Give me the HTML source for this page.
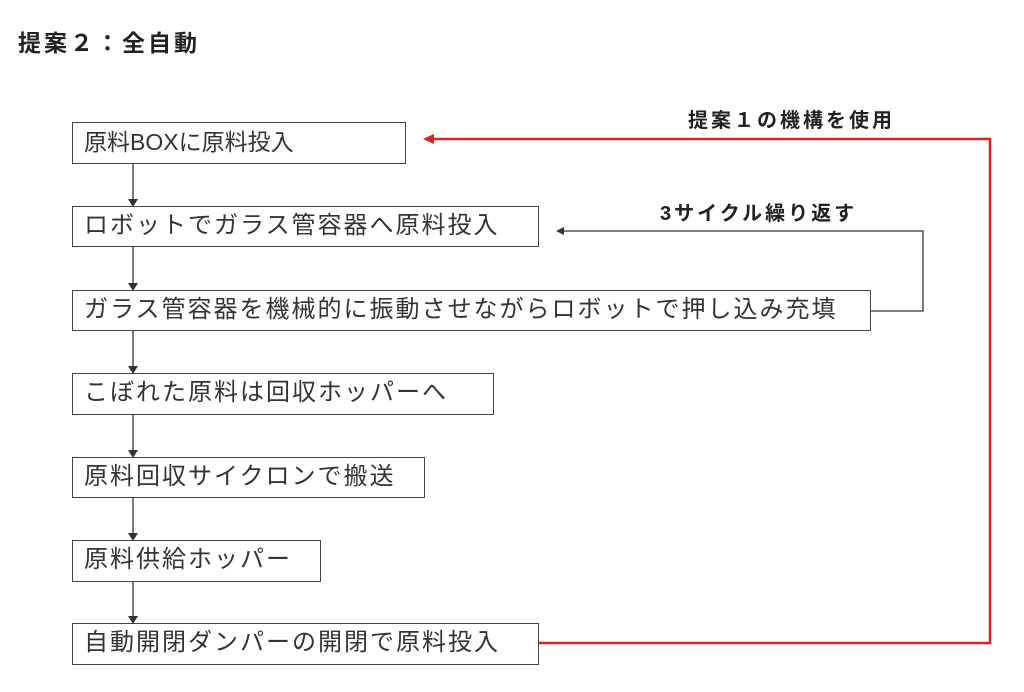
<!DOCTYPE html>
<html><head><meta charset="utf-8"><style>
body{margin:0;width:1024px;height:692px;background:#fff;position:relative;overflow:hidden;font-family:"Liberation Sans","Noto Sans CJK JP",sans-serif;color:#222}
.b{position:absolute;border:1.5px solid #444;box-sizing:border-box;font-size:24px;line-height:38px;padding-left:11px;white-space:nowrap;background:#fff;letter-spacing:2px;color:#333}
.t{position:absolute;font-weight:bold;white-space:nowrap}
</style></head><body>
<div class="t" style="left:18px;top:24px;font-size:23px;letter-spacing:3px">提案２：全自動</div>
<div class="t" style="left:688px;top:104px;font-size:20px;letter-spacing:3px">提案１の機構を使用</div>
<div class="t" style="left:660px;top:197px;font-size:20px;letter-spacing:3px">3サイクル繰り返す</div>
<svg style="position:absolute;left:0;top:0" width="1024" height="692">
<g stroke="#333" stroke-width="1.3" fill="none">
<line x1="133" y1="163" x2="133" y2="200"/>
<line x1="133" y1="246" x2="133" y2="284"/>
<line x1="133" y1="330" x2="133" y2="367"/>
<line x1="133" y1="414" x2="133" y2="451"/>
<line x1="133" y1="497" x2="133" y2="534"/>
<line x1="133" y1="581" x2="133" y2="617"/>
<polyline points="870,311 923,311 923,231 563,231"/>
</g>
<g fill="#333">
<polygon points="128,199 138,199 133,207"/>
<polygon points="128,283 138,283 133,291"/>
<polygon points="128,366 138,366 133,374"/>
<polygon points="128,450 138,450 133,458"/>
<polygon points="128,533 138,533 133,541"/>
<polygon points="128,616 138,616 133,624"/>
<polygon points="556,231 564,227 564,235"/>
</g>
<polyline points="538,643 990,643 990,139 432,139" stroke="#e02020" stroke-width="2.5" fill="none"/>
<polygon points="423,139 434,134 434,144" fill="#e02020"/>
</svg>
<div class="b" style="left:72px;top:122px;width:334px;height:42px;letter-spacing:0;font-size:23px">原料BOXに原料投入</div>
<div class="b" style="left:72px;top:206px;width:467px;height:41px">ロボットでガラス管容器へ原料投入</div>
<div class="b" style="left:72px;top:290px;width:799px;height:41px">ガラス管容器を機械的に振動させながらロボットで押し込み充填</div>
<div class="b" style="left:72px;top:373px;width:422px;height:42px">こぼれた原料は回収ホッパーへ</div>
<div class="b" style="left:72px;top:457px;width:353px;height:41px">原料回収サイクロンで搬送</div>
<div class="b" style="left:72px;top:540px;width:249px;height:42px">原料供給ホッパー</div>
<div class="b" style="left:72px;top:623px;width:467px;height:42px">自動開閉ダンパーの開閉で原料投入</div>
</body></html>
